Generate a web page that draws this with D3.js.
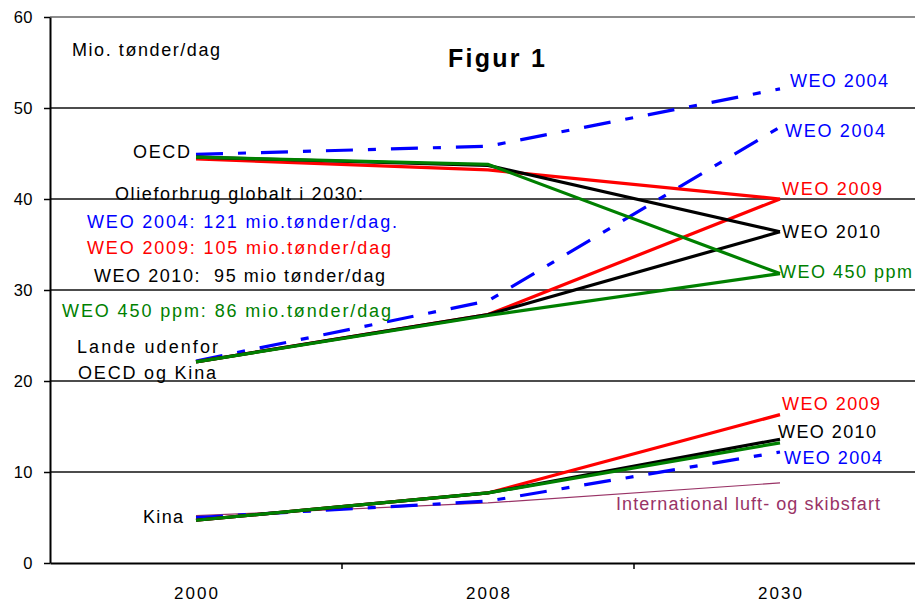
<!DOCTYPE html>
<html>
<head>
<meta charset="utf-8">
<script src="https://cdn.jsdelivr.net/npm/d3@7"></script>
<style>
body{margin:0;background:#fff}
svg{display:block;font-family:"Liberation Sans",Arial,sans-serif}
text{white-space:pre}
</style>
</head>
<body>
<script>
//////////////// Data ////////////////
var years = ["2000", "2008", "2030"];
var yTicks = [0, 10, 20, 30, 40, 50, 60];

// OECD
var oecd2004 = [44.9, 45.8, 52.1];
var oecd2009 = [44.4, 43.2, 40.0];
var oecd2010 = [44.6, 43.7, 36.4];
var oecd450 = [44.6, 43.8, 31.8];
// Lande udenfor OECD og Kina
var non2004 = [22.2, 28.8, 47.9];
var non2009 = [22.1, 27.3, 40.0];
var non2010 = [22.1, 27.3, 36.4];
var non450 = [22.1, 27.2, 31.8];
// Kina
var kina2004 = [5.0, 6.8, 12.2];
var kina2009 = [4.7, 7.7, 16.3];
var kina2010 = [4.7, 7.7, 13.6];
var kina450 = [4.7, 7.7, 13.2];
// International luft- og skibsfart
var luftSkib = [5.2, 6.6, 8.8];

//////////////// Farver ////////////////
var blue = "#0000ff", red = "#ff0000", black = "#000000", green = "#008000", plum = "#993366";

var series = [
  {v: luftSkib, c: plum, w: 1.2},
  {v: oecd2004, c: blue, w: 3.2, dash: "27,15,8,15"},
  {v: non2004, c: blue, w: 3.2, dash: "27,15,8,15"},
  {v: kina2004, c: blue, w: 3.2, dash: "27,15,8,15"},
  {v: oecd2009, c: red, w: 3.2},
  {v: non2009, c: red, w: 3.2},
  {v: kina2009, c: red, w: 3.2},
  {v: oecd2010, c: black, w: 3.2},
  {v: non2010, c: black, w: 3.2},
  {v: kina2010, c: black, w: 3.2},
  {v: oecd450, c: green, w: 3.2},
  {v: non450, c: green, w: 3.2},
  {v: kina450, c: green, w: 3.2}
];

//////////////// SVG ////////////////
var W = 915, H = 603;
var svg = d3.select("body").append("svg")
  .attr("width", W)
  .attr("height", H);

var x = d3.scaleBand().domain(years).range([50, 926]);
var y = d3.scaleLinear().domain([0, 60]).range([563, 17]);
function cx(i) { return x(years[i]) + x.bandwidth() / 2; }

// gitterlinjer
svg.append("g").selectAll("line")
  .data(yTicks.filter(function(d){ return d > 0; }))
  .enter().append("line")
  .attr("x1", 50).attr("x2", W)
  .attr("y1", function(d){ return y(d); })
  .attr("y2", function(d){ return y(d); })
  .attr("stroke", function(d){ return d === 60 ? "#8c8c8c" : "#111"; })
  .attr("stroke-width", function(d){ return d === 60 ? 2 : 1.6; });

//////////////// Axes ////////////////
var yAxis = svg.append("g")
  .attr("transform", "translate(50,0)")
  .call(d3.axisLeft(y).tickValues(yTicks).tickSize(6).tickPadding(11).tickSizeOuter(0));
yAxis.select(".domain").attr("stroke", "#000").attr("stroke-width", 2);
yAxis.selectAll(".tick line").attr("stroke", "#000").attr("stroke-width", 1.5);
yAxis.selectAll(".tick text")
  .attr("font-size", 16.5).attr("fill", "#000")
  .attr("letter-spacing", "0.5");

var xAxis = svg.append("g")
  .attr("transform", "translate(0,563)")
  .call(d3.axisBottom(x).tickSize(0).tickPadding(24));
xAxis.select(".domain").attr("stroke", "#000").attr("stroke-width", 2);
xAxis.selectAll(".tick text")
  .attr("font-size", 17).attr("fill", "#000")
  .attr("textLength", 44).attr("lengthAdjust", "spacing");

// skillestreger mellem kategorier
xAxis.selectAll("line.skille")
  .data(years.slice(1))
  .enter().append("line")
  .attr("class", "skille")
  .attr("x1", function(d){ return x(d); })
  .attr("x2", function(d){ return x(d); })
  .attr("y1", 0).attr("y2", 6)
  .attr("stroke", "#000").attr("stroke-width", 1.5);

//////////////// Linjer ////////////////
var line = d3.line()
  .x(function(d, i){ return cx(i); })
  .y(function(d){ return y(d); });

svg.append("g").selectAll("path")
  .data(series)
  .enter().append("path")
  .attr("d", function(s){ return line(s.v); })
  .attr("fill", "none")
  .attr("stroke", function(s){ return s.c; })
  .attr("stroke-width", function(s){ return s.w; })
  .attr("stroke-dasharray", function(s){ return s.dash || null; })
  .attr("stroke-linejoin", "miter");

//////////////// Tekster ////////////////
var tekster = [
  {t: "Mio. tønder/dag", x: 72, y: 49, w: 148, c: black},
  {t: "WEO 2004", x: 790, y: 80, w: 98, c: blue},
  {t: "WEO 2004", x: 785, y: 130, w: 100, c: blue},
  {t: "WEO 2009", x: 782, y: 188, w: 100, c: red},
  {t: "WEO 2010", x: 782, y: 231, w: 98, c: black},
  {t: "WEO 450 ppm", x: 779, y: 271, w: 133, c: green},
  {t: "OECD", x: 133, y: 151, w: 57, c: black},
  {t: "Olieforbrug globalt i 2030:", x: 115, y: 193, w: 248, c: black},
  {t: "WEO 2004: 121 mio.tønder/dag.", x: 87, y: 221, w: 310, c: blue},
  {t: "WEO 2009: 105 mio.tønder/dag", x: 87, y: 247, w: 304, c: red},
  {t: "WEO 2010:  95 mio tønder/dag", x: 94, y: 275, w: 291, c: black},
  {t: "WEO 450 ppm: 86 mio.tønder/dag", x: 62, y: 310, w: 329, c: green},
  {t: "Lande udenfor", x: 77, y: 346, w: 141, c: black},
  {t: "OECD og Kina", x: 78, y: 372, w: 138, c: black},
  {t: "Kina", x: 143, y: 516, w: 40, c: black},
  {t: "WEO 2009", x: 782, y: 403, w: 98, c: red},
  {t: "WEO 2010", x: 778, y: 431, w: 98, c: black},
  {t: "WEO 2004", x: 784, y: 457, w: 98, c: blue},
  {t: "International luft- og skibsfart", x: 616, y: 503, w: 264, c: plum}
];

svg.append("g").selectAll("text")
  .data(tekster)
  .enter().append("text")
  .attr("x", function(d){ return d.x; })
  .attr("y", function(d){ return d.y + 6.5; })
  .attr("font-size", 18)
  .attr("fill", function(d){ return d.c; })
  .attr("textLength", function(d){ return d.w; })
  .attr("lengthAdjust", "spacing")
  .text(function(d){ return d.t; });

svg.append("text")
  .attr("x", 448).attr("y", 67)
  .attr("font-size", 25).attr("font-weight", "bold")
  .attr("textLength", 97).attr("lengthAdjust", "spacing")
  .text("Figur 1");
</script>
</body>
</html>
